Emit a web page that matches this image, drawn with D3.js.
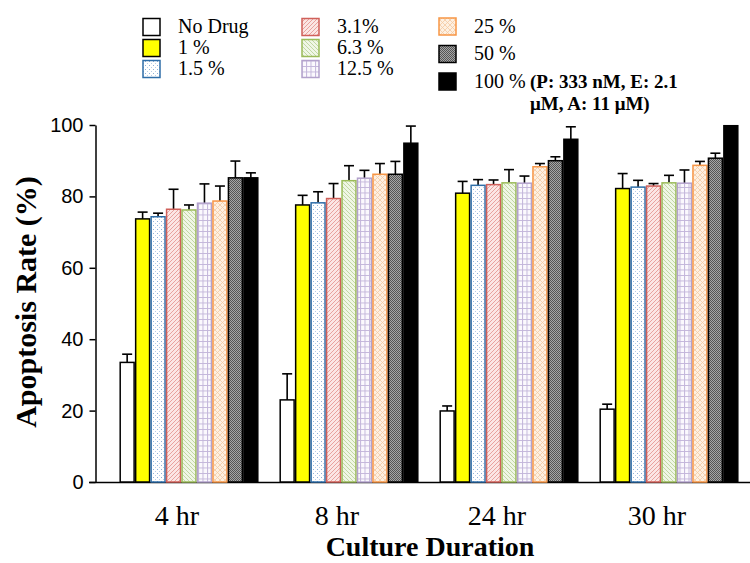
<!DOCTYPE html>
<html>
<head>
<meta charset="utf-8">
<script src="https://d3js.org/d3.v7.min.js"></script>
<style>
  body { margin: 0; background: #fff; }
  .serif { font-family: "Palatino Linotype", "Book Antiqua", Palatino, "Liberation Serif", serif; }
</style>
</head>
<body>
<div id="chart"></div>
<script>
// categories
var groups = ['4 hr', '8 hr', '24 hr', '30 hr']
var doses = ['No Drug', '1 %', '1.5 %', '3.1%', '6.3 %', '12.5 %', '25 %', '50 %', '100 %']

// mean values per dose (one per culture duration)
var noDrug = [33.5, 23.0, 19.9, 20.4]
var dose1 = [73.7, 77.6, 80.9, 82.2]
var dose1_5 = [74.3, 78.2, 83.1, 82.6]
var dose3_1 = [76.4, 79.4, 83.3, 82.9]
var dose6_3 = [76.2, 84.4, 83.8, 83.8]
var dose12_5 = [78.1, 85.1, 83.7, 83.7]
var dose25 = [78.7, 86.2, 88.3, 88.7]
var dose50 = [85.2, 86.2, 90.0, 90.7]
var dose100 = [85.2, 94.9, 96.0, 99.8]

// error (upper) per dose
var noDrugErr = [2.3, 7.3, 1.4, 1.4]
var dose1Err = [1.9, 2.7, 3.3, 4.2]
var dose1_5Err = [1.0, 3.1, 1.6, 1.9]
var dose3_1Err = [5.6, 4.2, 1.3, 0.7]
var dose6_3Err = [1.4, 4.2, 3.7, 2.1]
var dose12_5Err = [5.4, 2.2, 2.0, 3.7]
var dose25Err = [4.2, 3.0, 0.9, 1.1]
var dose50Err = [4.7, 3.6, 1.1, 1.4]
var dose100Err = [1.4, 4.8, 3.5, 0]

var yTicks = [0, 20, 40, 60, 80, 100]

var values = [noDrug, dose1, dose1_5, dose3_1, dose6_3, dose12_5, dose25, dose50, dose100]
var errors = [noDrugErr, dose1Err, dose1_5Err, dose3_1Err, dose6_3Err, dose12_5Err, dose25Err, dose50Err, dose100Err]

// look of each dose: fill (pattern id or colour) and outline
var fills = ['#ffffff', '#ffff00', 'url(#p-dots)', 'url(#p-fwd)', 'url(#p-back)', 'url(#p-grid)', 'url(#p-cross)', 'url(#p-check)', '#000000']
var strokes = ['#000', '#000', '#2f6ea8', '#d0605a', '#9bbb59', '#b3a2cc', '#f79646', '#000', '#000']

var width = 750
var height = 563

var svg = d3.select('#chart')
    .append('svg')
    .attr('width', width)
    .attr('height', height)

// patterns
var defs = svg.append('defs')

var pDots = defs.append('pattern').attr('id', 'p-dots')
    .attr('patternUnits', 'userSpaceOnUse').attr('width', 4).attr('height', 4)
pDots.append('rect').attr('width', 4).attr('height', 4).attr('fill', '#fff')
pDots.append('rect').attr('x', 1).attr('y', 1).attr('width', 1).attr('height', 1).attr('fill', '#8fb0d6')
pDots.append('rect').attr('x', 3).attr('y', 3).attr('width', 1).attr('height', 1).attr('fill', '#b8cde6')

var pFwd = defs.append('pattern').attr('id', 'p-fwd')
    .attr('patternUnits', 'userSpaceOnUse').attr('width', 4).attr('height', 4)
pFwd.append('rect').attr('width', 4).attr('height', 4).attr('fill', '#fbe6e4')
pFwd.append('path').attr('d', 'M-1,1 L1,-1 M0,4 L4,0 M3,5 L5,3').attr('stroke', '#e59b96').attr('stroke-width', 0.9)

var pBack = defs.append('pattern').attr('id', 'p-back')
    .attr('patternUnits', 'userSpaceOnUse').attr('width', 4).attr('height', 4)
pBack.append('rect').attr('width', 4).attr('height', 4).attr('fill', '#f0f6e6')
pBack.append('path').attr('d', 'M-1,3 L1,5 M0,0 L4,4 M3,-1 L5,1').attr('stroke', '#bcd59c').attr('stroke-width', 0.9)

var pGrid = defs.append('pattern').attr('id', 'p-grid')
    .attr('patternUnits', 'userSpaceOnUse').attr('width', 4.5).attr('height', 5.5)
pGrid.append('rect').attr('width', 4.5).attr('height', 5.5).attr('fill', '#fbf9fd')
pGrid.append('path').attr('d', 'M0,0.5 H4.5 M0.5,0 V5.5').attr('stroke', '#c3b6da').attr('stroke-width', 1)

var pCross = defs.append('pattern').attr('id', 'p-cross')
    .attr('patternUnits', 'userSpaceOnUse').attr('width', 5).attr('height', 5)
pCross.append('rect').attr('width', 5).attr('height', 5).attr('fill', '#fdf0e2')
pCross.append('path').attr('d', 'M0,0 L5,5 M5,0 L0,5').attr('stroke', '#f4c9a2').attr('stroke-width', 0.8)

var pCheck = defs.append('pattern').attr('id', 'p-check')
    .attr('patternUnits', 'userSpaceOnUse').attr('width', 2).attr('height', 2)
pCheck.append('rect').attr('width', 2).attr('height', 2).attr('fill', '#a6a6a6')
pCheck.append('rect').attr('width', 1).attr('height', 1).attr('fill', '#555')
pCheck.append('rect').attr('x', 1).attr('y', 1).attr('width', 1).attr('height', 1).attr('fill', '#555')

// scales
var x0 = d3.scaleBand()
    .domain(groups)
    .range([109, 749])
    .paddingInner(0.14)
    .paddingOuter(0.07)

var x1 = d3.scaleBand()
    .domain(doses)
    .range([0, x0.bandwidth()])
    .paddingInner(0.1)

var y = d3.scaleLinear()
    .domain([0, 100])
    .range([482, 125])

// axes
var yAxis = d3.axisLeft(y)
    .tickValues(yTicks)
    .tickSize(6)
    .tickSizeOuter(0)
    .tickPadding(6)

var gy = svg.append('g')
    .attr('transform', 'translate(95.5,0)')
    .call(yAxis)
gy.select('.domain').attr('stroke', '#000').attr('stroke-width', 1.5)
gy.selectAll('.tick line').attr('stroke', '#000').attr('stroke-width', 1.5)
gy.selectAll('.tick text')
    .style('font-family', '"Liberation Sans", Arial, sans-serif')
    .style('font-size', '20px')
    .attr('fill', '#000')

// x baseline
svg.append('line')
    .attr('x1', 89).attr('x2', 750)
    .attr('y1', y(0) + 0.5).attr('y2', y(0) + 0.5)
    .attr('stroke', '#000')
    .attr('stroke-width', 1.5)

// bars
var rows = []
groups.forEach(function (g, gi) {
    doses.forEach(function (d, di) {
        rows.push({ group: g, dose: d, di: di, value: values[di][gi], err: errors[di][gi] })
    })
})

var gBars = svg.append('g')

// error bars (upper only)
var eb = gBars.selectAll('g.err')
    .data(rows.filter(function (d) { return d.err > 0 }))
    .enter().append('g')
    .attr('class', 'err')
eb.append('line')
    .attr('x1', function (d) { return x0(d.group) + x1(d.dose) + x1.bandwidth() / 2 })
    .attr('x2', function (d) { return x0(d.group) + x1(d.dose) + x1.bandwidth() / 2 })
    .attr('y1', function (d) { return y(d.value) })
    .attr('y2', function (d) { return y(d.value + d.err) })
    .attr('stroke', '#000')
    .attr('stroke-width', 1.6)
eb.append('line')
    .attr('x1', function (d) { return x0(d.group) + x1(d.dose) + x1.bandwidth() / 2 - 5 })
    .attr('x2', function (d) { return x0(d.group) + x1(d.dose) + x1.bandwidth() / 2 + 5 })
    .attr('y1', function (d) { return y(d.value + d.err) })
    .attr('y2', function (d) { return y(d.value + d.err) })
    .attr('stroke', '#000')
    .attr('stroke-width', 1.6)

gBars.selectAll('rect.bar')
    .data(rows)
    .enter().append('rect')
    .attr('class', 'bar')
    .attr('x', function (d) { return x0(d.group) + x1(d.dose) })
    .attr('width', x1.bandwidth())
    .attr('y', function (d) { return y(d.value) })
    .attr('height', function (d) { return y(0) - y(d.value) })
    .attr('fill', function (d) { return fills[d.di] })
    .attr('stroke', function (d) { return strokes[d.di] })
    .attr('stroke-width', 1.5)

// x labels (sit a little left of the group centre, as in the original)
svg.append('g').selectAll('text')
    .data(groups)
    .enter().append('text')
    .attr('class', 'serif')
    .attr('x', function (d) { return x0(d) + x0.bandwidth() / 2 - 12 })
    .attr('y', 525)
    .attr('text-anchor', 'middle')
    .style('font-size', '28px')
    .text(function (d) { return d })

svg.append('text')
    .attr('class', 'serif')
    .attr('x', 430)
    .attr('y', 556)
    .attr('text-anchor', 'middle')
    .style('font-size', '28px')
    .style('font-weight', 'bold')
    .text('Culture Duration')

svg.append('text')
    .attr('class', 'serif')
    .attr('transform', 'translate(36,302) rotate(-90)')
    .attr('text-anchor', 'middle')
    .style('font-size', '30px')
    .style('font-weight', 'bold')
    .text('Apoptosis Rate (%)')

// legend
var legendCols = [
    { x: 143, rows: [27, 48, 69] },
    { x: 302, rows: [27, 48, 69] },
    { x: 439, rows: [26.5, 54, 81.5] }
]
var legend = svg.append('g')
doses.forEach(function (d, di) {
    var col = legendCols[Math.floor(di / 3)]
    var cy = col.rows[di % 3]
    legend.append('rect')
        .attr('x', col.x)
        .attr('y', cy - 8.5)
        .attr('width', 17)
        .attr('height', 17)
        .attr('fill', fills[di])
        .attr('stroke', strokes[di])
        .attr('stroke-width', 1.5)
    var t = legend.append('text')
        .attr('class', 'serif')
        .attr('x', col.x + 35)
        .attr('y', cy + 6)
        .style('font-size', '20px')
        .text(d)
    if (d === '100 %') {
        t.append('tspan')
            .attr('x', 530)
            .style('font-weight', 'bold')
            .style('font-size', '19px')
            .text('(P: 333 nM, E: 2.1')
        legend.append('text')
            .attr('class', 'serif')
            .attr('x', 530)
            .attr('y', cy + 28)
            .style('font-size', '19px')
            .style('font-weight', 'bold')
            .text('μM, A: 11 μM)')
    }
})
</script>
</body>
</html>
